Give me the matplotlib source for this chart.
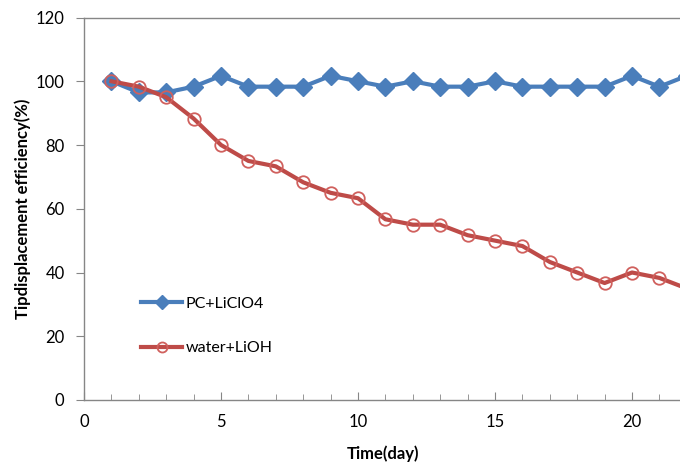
import matplotlib.pyplot as plt
from matplotlib.ticker import MultipleLocator, FixedLocator

plt.rcParams['font.family'] = ['Lato', 'DejaVu Sans']

# données
days = list(range(1, 23))
pc_liclo4 = [100, 96.5, 96.5, 98.3, 101.7, 98.3, 98.3, 98.3, 101.7, 100, 98.3,
             100, 98.3, 98.3, 100, 98.3, 98.3, 98.3, 98.3, 101.7, 98.3, 101.7]
water_lioh = [100, 98.3, 95, 88.3, 80, 75, 73.3, 68.3, 65, 63.3, 56.7,
              55, 55, 51.7, 50, 48.3, 43.3, 40, 36.7, 40, 38.3, 35]

fig = plt.figure(figsize=(6.8, 4.63), dpi=100)
# l'axe dépasse à droite, comme sur l'image recadrée
ax_w = 25 * 27.4
ax = fig.add_axes([84 / 680, 63 / 463, ax_w / 680, 382.5 / 463])

ax.plot(days, pc_liclo4, color='#4a7ebb', lw=3, marker='D', ms=9,
        mfc='#4a7ebb', mec='#4a7ebb', label='PC+LiClO4', zorder=3)
ax.plot(days, water_lioh, color='#be4b48', lw=3, marker='o', ms=9,
        mfc='none', mec='#d0605d', mew=1.3, label='water+LiOH', zorder=4)

ax.set_xlim(0, 25)
ax.set_ylim(0, 120)
ax.xaxis.set_major_locator(FixedLocator([0, 5, 10, 15, 20]))
ax.xaxis.set_minor_locator(MultipleLocator(1))
ax.yaxis.set_major_locator(MultipleLocator(20))

for s in ax.spines.values():
    s.set_color('#868686')
    s.set_linewidth(1)

ax.tick_params(axis='x', which='both', direction='in', colors='#868686',
               labelcolor='black', labelsize=12, pad=10)
ax.tick_params(axis='x', which='major', length=6)
ax.tick_params(axis='x', which='minor', length=4)
ax.tick_params(axis='y', direction='out', length=6, colors='#868686',
               labelcolor='black', labelsize=12, pad=8)

ax.set_xlabel('Time(day)', fontsize=12, fontweight='bold')
ax.xaxis.set_label_coords((383 - 84) / ax_w, -0.118)
ax.set_ylabel('Tipdisplacement efficiency(%)', fontsize=12, fontweight='bold')
ax.yaxis.set_label_coords(-53 / ax_w, 0.5)

leg = ax.legend(loc='upper left', bbox_to_anchor=(0.062, 0.308), frameon=False,
                fontsize=11.5, handlelength=2.6, labelspacing=1.9,
                handletextpad=0.2, markerscale=0.8)

plt.savefig('out.png', dpi=100)
